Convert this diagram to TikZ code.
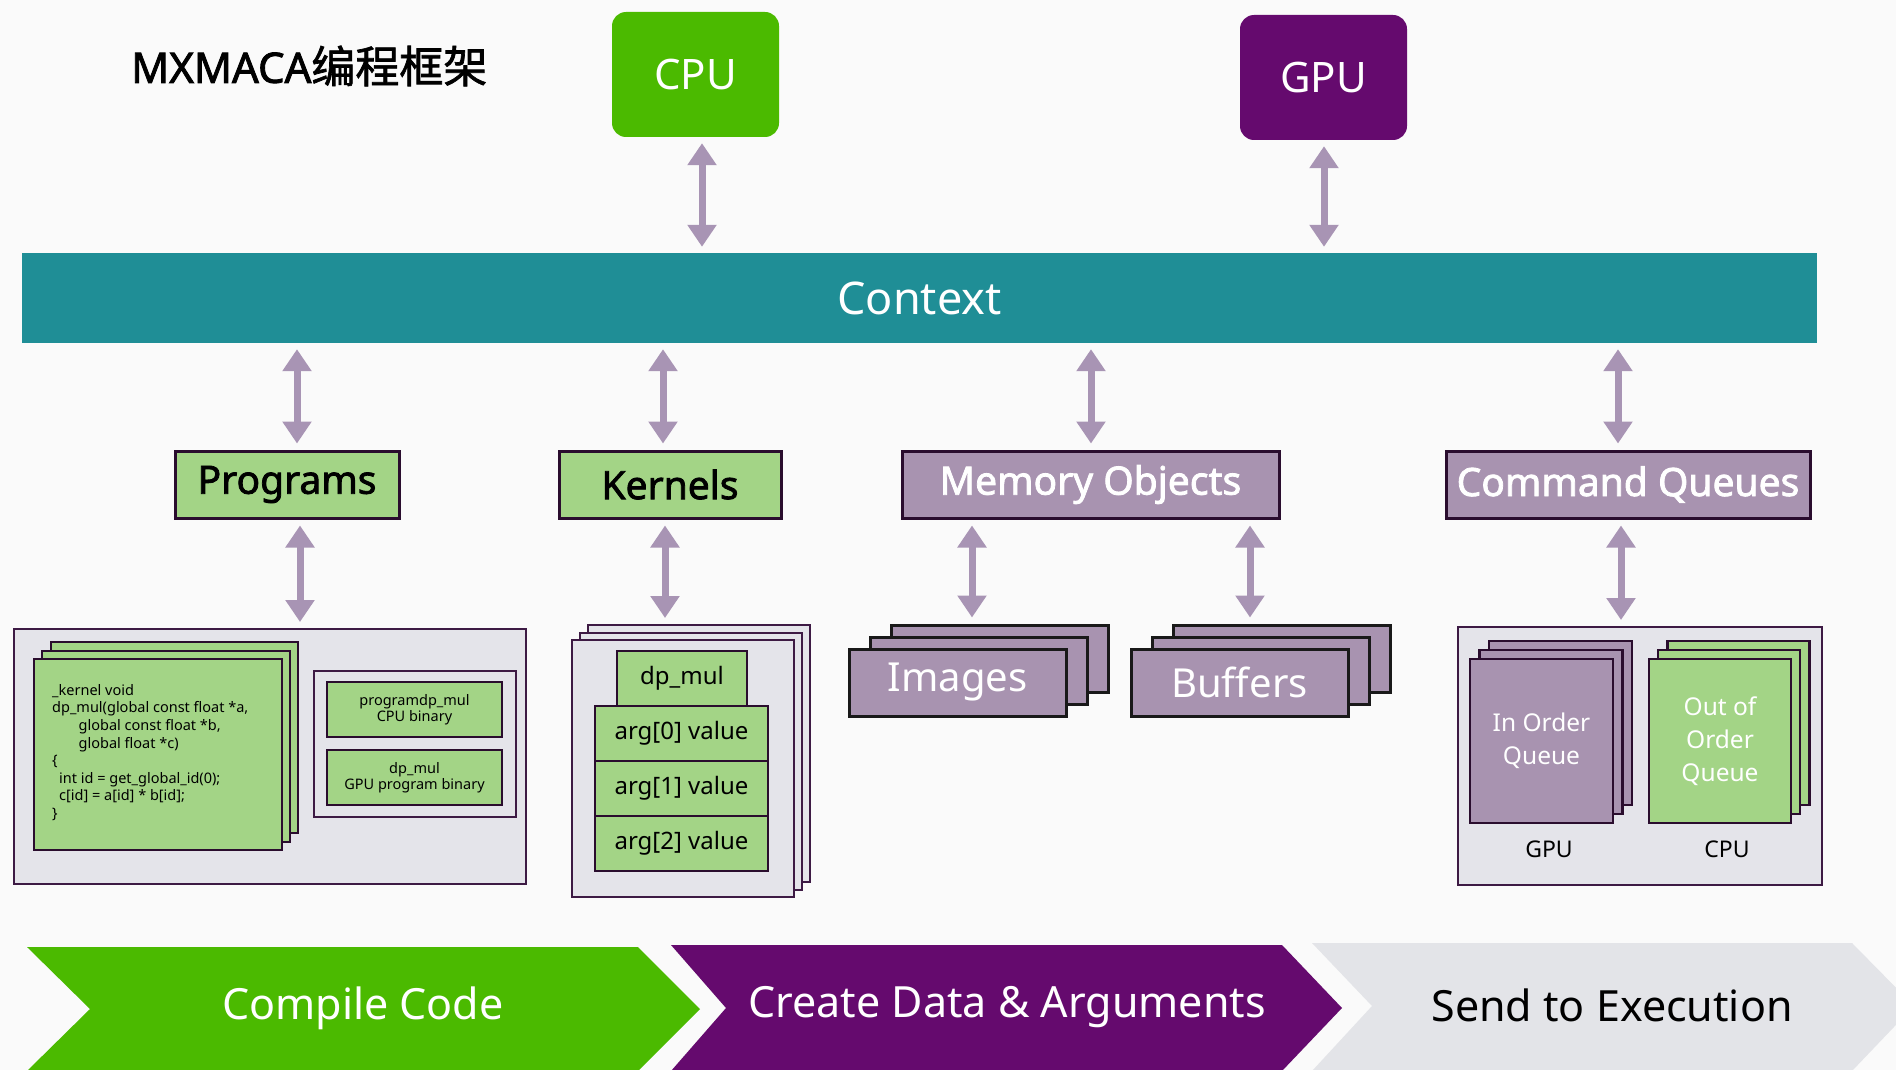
\documentclass[tikz,border=0pt]{standalone}
\usepackage{fontspec}
\setmainfont{Noto Sans}
\newfontfamily\semib{Noto Sans}[FakeBold=2]
\newfontfamily\cjkfont{Noto Sans CJK SC}[FakeBold=1.5]
\usetikzlibrary{arrows.meta}
\newcommand\myfs[2]{\fontsize{#1}{#2}\selectfont}
\definecolor{bgc}{HTML}{FAFAFA}
\definecolor{cgreen}{HTML}{4BBA00}
\definecolor{cpurple}{HTML}{650A6E}
\definecolor{cteal}{HTML}{1F8E96}
\definecolor{lgreen}{HTML}{A3D486}
\definecolor{lpurple}{HTML}{A893B0}
\definecolor{arrowc}{HTML}{A894B4}
\definecolor{panelc}{HTML}{E4E4EA}
\definecolor{chevgrey}{HTML}{E3E4E8}
\definecolor{darkb}{HTML}{2A0D2E}
\definecolor{panelb}{HTML}{3D1A44}
\begin{document}
\begin{tikzpicture}[x=1pt,y=-1pt,
  dbl/.style={draw=arrowc, line width=7pt, {Triangle[width=28pt,length=22pt]}-{Triangle[width=28pt,length=22pt]}, shorten <=6pt, shorten >=6pt},
  topbox/.style={rounded corners=14pt, fill=#1, text=white, minimum width=167pt, minimum height=125pt, inner sep=0pt, font=\myfs{42}{46}},
  gbox/.style={draw=darkb, line width=3pt, fill=lgreen, inner sep=0pt, font=\semib\myfs{39}{43}},
  pbox/.style={draw=darkb, line width=3pt, fill=lpurple, text=white, inner sep=0pt, font=\semib\myfs{39}{43}},
  panel/.style={draw=panelb, line width=2pt, fill=panelc, inner sep=0pt},
  card/.style={draw=darkb, line width=2.5pt, fill=lgreen, inner sep=0pt},
  pcard/.style={draw=darkb, line width=2.5pt, fill=lpurple, inner sep=0pt},
  stackp/.style={draw=black!90, line width=3pt, fill=lpurple, inner sep=0pt, text=white, font=\myfs{40}{44}},
  argbox/.style={draw=darkb, line width=2.5pt, fill=lgreen, inner sep=0pt, minimum width=173pt, minimum height=55pt, font=\myfs{24}{28}},
  binbox/.style={draw=darkb, line width=2.5pt, fill=lgreen, inner sep=0pt, minimum width=175pt, minimum height=55pt, align=center, font=\myfs{14.5}{16.5}},
  chevtext/.style={font=\myfs{43}{47}, inner sep=0pt}
]
\fill[bgc] (0,0) rectangle (1896,1070);
\useasboundingbox (0,0) rectangle (1896,1070);

% title
\node[inner sep=0pt, anchor=west] (title) at (131,66) {\semib\myfs{42}{46}MXMACA{\cjkfont\myfs{44}{46}编程框架}};

% CPU / GPU
\node[topbox=cgreen] (cpu) at (695.5,74.5) {CPU};
\node[topbox=cpurple] (gpu) at (1323.5,77.5) {GPU};

% Context
\node[fill=cteal, text=white, minimum width=1795pt, minimum height=90pt, inner sep=0pt, font=\myfs{45}{49}] (ctx) at (919.5,298) {Context};

% second row boxes
\node[gbox, minimum width=224pt, minimum height=67pt] (prog) at (287,484.5) {Programs};
\node[gbox, minimum width=222pt, minimum height=67pt] (kern) at (670,484.5) {Kernels};
\node[pbox, minimum width=377pt, minimum height=67pt] (mem) at (1090.5,484.5) {Memory Objects};
\node[pbox, minimum width=364pt, minimum height=67pt] (cq) at (1628,484.5) {Command Queues};

% arrow x positions
\coordinate (xcpu) at (702,0);
\coordinate (xgpu) at (1324,0);
\coordinate (xp1) at (297,0);
\coordinate (xk1) at (663,0);
\coordinate (xm1) at (1091,0);
\coordinate (xq1) at (1618,0);
\coordinate (xp2) at (300,0);
\coordinate (xk2) at (665,0);
\coordinate (xi2) at (972,0);
\coordinate (xb2) at (1250,0);
\coordinate (xq2) at (1621,0);

% Programs panel
\node[panel, minimum width=512pt, minimum height=255pt] (ppanel) at (270,756.5) {};
\node[card, minimum width=247pt, minimum height=191pt] (code3) at (174.5,737.5) {};
\node[card, minimum width=248pt, minimum height=191pt] (code2) at (166,746.5) {};
\node[card, minimum width=248pt, minimum height=191pt] (code1) at (158,754.5) {};
\node[inner sep=0pt, anchor=north west, align=left, font=\myfs{14.5}{17.6}] (code) at (52,684) {%
\_kernel void\\
dp\_mul(global const float *a,\\
\hspace*{26.5pt}global const float *b,\\
\hspace*{26.5pt}global float *c)\\
\{\\
\hspace*{7pt}int id = get\_global\_id(0);\\
\hspace*{7pt}c[id] = a[id] * b[id];\\
\}};
\node[panel, minimum width=202pt, minimum height=146pt] (binpanel) at (415,744) {};
\node[binbox] (cpubin) at (414.5,709.5) {programdp\_mul\\CPU binary};
\node[binbox] (gpubin) at (414.5,777.5) {dp\_mul\\GPU program binary};

% Kernels panel
\node[panel, minimum width=222pt, minimum height=257pt] (kp3) at (699,753.5) {};
\node[panel, minimum width=222pt, minimum height=257pt] (kp2) at (691,761) {};
\node[panel, minimum width=222pt, minimum height=257pt] (kp1) at (683,768.5) {};
\node[argbox, minimum width=130pt] (dpmul) at (682,678.5) {dp\_mul};
\node[argbox] (arg0) at (681.5,733.5) {arg[0] value};
\node[argbox] (arg1) at (681.5,788.5) {arg[1] value};
\node[argbox] (arg2) at (681.5,843.5) {arg[2] value};

% Images stack
\node[stackp, minimum width=217pt, minimum height=67pt] (img3) at (999.5,658.5) {};
\node[stackp, minimum width=217pt, minimum height=67pt] (img2) at (978.5,670.5) {};
\node[stackp, minimum width=217pt, minimum height=67pt] (img1) at (957.5,682.5) {Images};
% Buffers stack
\node[stackp, minimum width=217pt, minimum height=67pt] (buf3) at (1281.5,658.5) {};
\node[stackp, minimum width=217pt, minimum height=67pt] (buf2) at (1260.5,670.5) {};
\node[stackp, minimum width=217pt, minimum height=67pt] (buf1) at (1239.5,682.5) {Buffers};

% Command queues panel
\node[panel, minimum width=364pt, minimum height=258pt] (qpanel) at (1640,756) {};
\node[pcard, minimum width=143pt, minimum height=164pt] (ioq3) at (1560.5,723) {};
\node[pcard, minimum width=143pt, minimum height=164pt] (ioq2) at (1551,732) {};
\node[pcard, minimum width=143pt, minimum height=164pt, text=white, align=center, font=\myfs{24.5}{33}] (ioq1) at (1541.5,741) {In Order\\Queue};
\node[card, minimum width=142pt, minimum height=164pt] (ooq3) at (1738.5,723) {};
\node[card, minimum width=142pt, minimum height=164pt] (ooq2) at (1729,732) {};
\node[card, minimum width=142pt, minimum height=164pt, text=white, align=center, font=\myfs{24.5}{33}] (ooq1) at (1720,741) {Out of\\Order\\Queue};
\node[inner sep=0pt, font=\myfs{23}{27}] (gpul) at (1549,849) {GPU};
\node[inner sep=0pt, font=\myfs{23}{27}] (cpul) at (1727,849) {CPU};

% arrows
\draw[dbl] (cpu.south -| xcpu) -- (ctx.north -| xcpu);
\draw[dbl] (gpu.south -| xgpu) -- (ctx.north -| xgpu);
\draw[dbl] (ctx.south -| xp1) -- (prog.north -| xp1);
\draw[dbl] (ctx.south -| xk1) -- (kern.north -| xk1);
\draw[dbl] (ctx.south -| xm1) -- (mem.north -| xm1);
\draw[dbl] (ctx.south -| xq1) -- (cq.north -| xq1);
\draw[dbl] (prog.south -| xp2) -- (ppanel.north -| xp2);
\draw[dbl] (kern.south -| xk2) -- (kp3.north -| xk2);
\draw[dbl] (mem.south -| xi2) -- (img3.north -| xi2);
\draw[dbl] (mem.south -| xb2) -- (buf3.north -| xb2);
\draw[dbl] (cq.south -| xq2) -- (qpanel.north -| xq2);

% chevrons
\begin{scope}
\clip (0,0) rectangle (1896,1070);
\fill[cgreen] (27,947) -- (638,947) -- (700,1009) -- (638,1071) -- (27,1071) -- (90,1009) -- cycle;
\fill[cpurple] (671,945) -- (1282,945) -- (1342,1008) -- (1282,1071) -- (671,1071) -- (726,1008) -- cycle;
\fill[chevgrey] (1312,943) -- (1852,943) -- (1914,1006) -- (1852,1071) -- (1312,1071) -- (1372,1006) -- cycle;
\end{scope}
\node[chevtext, text=white] (compile) at (363,1008) {Compile Code};
\node[chevtext, text=white] (create) at (1007,1007) {Create Data \& Arguments};
\node[chevtext, text=black] (send) at (1612,1005) {Send to Execution};
\end{tikzpicture}
\end{document}
